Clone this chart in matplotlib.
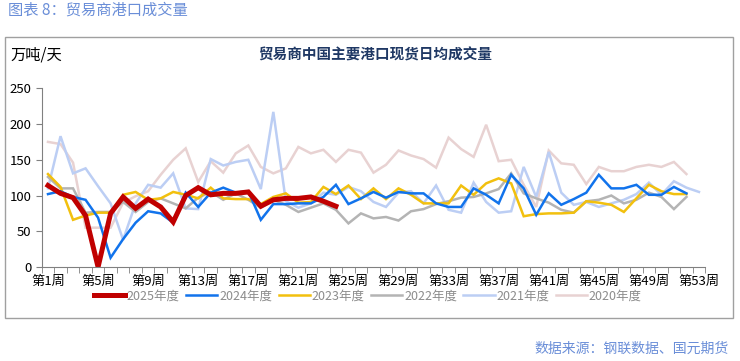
import matplotlib
matplotlib.use("Agg")
import matplotlib.pyplot as plt
from matplotlib.patches import Rectangle
import numpy as np

# 周次标签
weeks = ["第%d周" % i for i in range(1, 54)]

# 各年度数据（万吨/天）
y2025 = [114, 103, 97, 72, 0, 75, 98, 82, 95, 84, 63, 100, 111, 101, 103, 103, 105, 85,
         94, 96, 96, 98, 92, 85]
y2024 = [102, 106, 98, 94, 69, 13, 39, 62, 78, 75, 62, 104, 84, 104, 111, 104, 106, 66,
         88, 88, 89, 89, 98, 115, 88, 96, 105, 97, 105, 103, 103, 89, 84, 84, 110, 101,
         89, 129, 110, 73, 103, 87, 95, 104, 129, 110, 110, 115, 101, 101, 112, 103]
y2023 = [130, 112, 66, 72, 76, 76, 101, 105, 94, 96, 105, 101, 96, 111, 96, 95, 95, 88,
         98, 103, 90, 91, 112, 102, 114, 95, 110, 95, 110, 101, 89, 89, 89, 114, 101, 117,
         124, 117, 71, 74, 75, 75, 76, 92, 90, 87, 77, 96, 115, 106, 102, 102]
y2022 = [126, 110, 110, 76, 77, 77, 91, 77, 91, 96, 89, 82, 97, 105, 94, 103, 94, 83,
         94, 87, 77, 83, 89, 80, 61, 75, 68, 70, 65, 78, 81, 88, 92, 97, 98, 103, 109,
         131, 103, 96, 90, 80, 76, 92, 94, 100, 89, 94, 104, 98, 81, 98]
y2021 = [110, 183, 131, 138, 113, 89, 38, 89, 115, 111, 131, 82, 81, 151, 142, 147, 150,
         109, 217, 92, 83, 89, 104, 101, 112, 106, 91, 84, 104, 106, 89, 114, 80, 76, 118,
         91, 76, 78, 140, 98, 161, 104, 87, 91, 84, 89, 94, 102, 118, 101, 120, 111, 105]
y2020 = [175, 172, 146, 55, 55, 55, 90, 99, 106, 129, 150, 166, 119, 148, 132, 159, 170,
         140, 131, 138, 168, 159, 164, 147, 164, 160, 132, 143, 163, 156, 151, 139, 181,
         165, 154, 199, 148, 150, 115, 84, 163, 145, 143, 116, 140, 134, 134, 140, 143,
         140, 147, 130]

series = [
    ("2020年度", y2020, "#E8D2D2", 1.8),
    ("2021年度", y2021, "#BCCEF4", 1.8),
    ("2022年度", y2022, "#B4B4B4", 1.8),
    ("2023年度", y2023, "#F2C00E", 1.8),
    ("2024年度", y2024, "#1173EC", 1.8),
    ("2025年度", y2025, "#C00000", 3.6),
]

cjk = ["Liberation Sans Narrow", "Noto Sans CJK SC", "DejaVu Sans"]
plt.rcParams["font.family"] = cjk

fig = plt.figure(figsize=(7.4, 3.61), dpi=100)
ax = fig.add_axes([0.0564, 0.2604, 0.8966, 0.495])

lines = {}
for name, vals, col, lw in series:
    x = np.arange(len(vals))
    ln, = ax.plot(x, vals, color=col, lw=lw, solid_joinstyle="miter")
    lines[name] = ln

ax.set_xlim(-0.5, 52.5)
ax.set_ylim(0, 250)
ax.set_yticks(range(0, 251, 50))
ax.set_xticks(range(0, 53, 4))
ax.set_xticklabels(weeks[::4], fontsize=9.5)
ax.set_xticks(np.arange(-0.5, 53, 1), minor=True)
ax.tick_params(axis="x", which="major", length=0, pad=6)
ax.tick_params(axis="x", which="minor", length=4, color="#808080")
ax.tick_params(axis="y", length=4, color="#808080", labelsize=9.5)
for s in ["top", "right"]:
    ax.spines[s].set_visible(False)
ax.spines["left"].set_color("#808080")
ax.spines["bottom"].set_color("#808080")

order = ["2025年度", "2024年度", "2023年度", "2022年度", "2021年度", "2020年度"]
leg = fig.legend([lines[k] for k in order], order, loc="center", ncol=6,
                 bbox_to_anchor=(0.497, 0.18), frameon=False, fontsize=9,
                 handlelength=2.5, columnspacing=0.5, handletextpad=0.15)
for t in leg.get_texts():
    t.set_color("#8C8C8C")

# 外框
fig.patches.append(Rectangle((0.0068, 0.119), 0.984, 0.778, transform=fig.transFigure,
                             fill=False, edgecolor="#A0A0A0", lw=1))

fig.text(0.507, 0.848, "贸易商中国主要港口现货日均成交量", ha="center", va="center",
         fontsize=10.5, fontweight="bold", color="#1F3864")
fig.text(0.014, 0.848, "万吨/天", ha="left", va="center", fontsize=11, color="black")
fig.text(0.011, 0.972, "图表 8：贸易商港口成交量", ha="left", va="center",
         fontsize=11, color="#6A8ED8")
fig.text(0.985, 0.033, "数据来源：钢联数据、国元期货", ha="right", va="center",
         fontsize=10, color="#6A8ED8")

fig.savefig("out.png", dpi=100)
